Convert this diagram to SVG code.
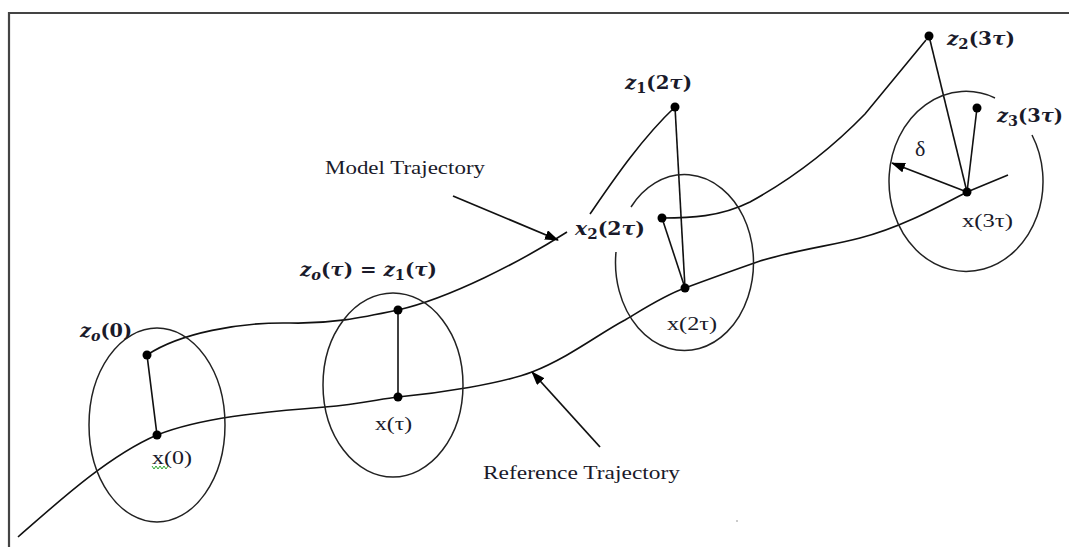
<svg xmlns="http://www.w3.org/2000/svg" width="1069" height="547" viewBox="0 0 1069 547">
<defs>
<marker id="ah" viewBox="0 0 14 10" refX="13" refY="5" markerWidth="14" markerHeight="10" markerUnits="userSpaceOnUse" orient="auto">
<path d="M0,0 L14,5 L0,10 z" fill="#000"/>
</marker>
<style>
.ln{fill:none;stroke:#111;stroke-width:1.6}
.ell{fill:none;stroke:#222;stroke-width:1.5}
.dot{fill:#000}
.m{font-family:"DejaVu Serif","Liberation Serif",serif;font-weight:bold;font-style:italic;font-size:19px;fill:#1a1a2a}
.u{font-style:normal}
.t{font-family:"Liberation Serif","Times New Roman",serif;font-size:19px;fill:#1a1a2a}
.big{font-size:22px}
.sub{font-size:14px}
.arr{fill:none;stroke:#111;stroke-width:1.8;marker-end:url(#ah)}
</style>
</defs>
<rect x="0" y="0" width="1069" height="547" fill="#fff"/>
<g id="frame">
<path d="M9,547 L9,13 L1069,13" fill="none" stroke="#444" stroke-width="2.2"/>
</g>
<g id="connectors">
<path id="reference-trajectory" class="ln" d="M18,537 C60,500 110,455 157,435 C200,418 260,412 325,407 C360,404 380,399 398,397 C440,393 500,384 532,372 C570,357 600,333 625,320 C645,308 665,295 685,288 C720,275 740,268 760,261 C800,249 830,246 860,238 C900,228 940,206 967,192 L1008,175"/>
<path id="model-a" class="ln" d="M147,355 C180,333 240,322 290,323 C330,324 360,318 398,310 C450,298 520,262 567,232"/>
<path id="model-b" class="ln" d="M590,214 C610,185 640,140 675,107"/>
<path id="model-c" class="ln" d="M662,218 C690,218 720,217 750,202 C790,180 830,150 865,114 L926,40"/>
<line class="ln" x1="147" y1="355" x2="157" y2="435"/>
<line class="ln" x1="398" y1="310" x2="398" y2="397"/>
<line class="ln" x1="675" y1="107" x2="685" y2="288"/>
<line class="ln" x1="662" y1="218" x2="685" y2="288"/>
<line class="ln" x1="929" y1="36" x2="967" y2="192"/>
<line class="ln" x1="977" y1="108" x2="967" y2="192"/>
<line class="arr" x1="967" y1="192" x2="892" y2="163"/>
<line class="arr" x1="453" y1="196" x2="558" y2="240"/>
<line class="arr" x1="600" y1="447" x2="532" y2="372"/>
</g>
<g id="node-t0">
<ellipse class="ell" cx="157" cy="425" rx="68" ry="97"/>
<circle class="dot" cx="147" cy="355" r="4.5"/>
<circle class="dot" cx="157" cy="435" r="4.5"/>
<text class="m" x="80" y="337" textLength="52" lengthAdjust="spacingAndGlyphs">z<tspan class="sub" dy="4">o</tspan><tspan class="u" dy="-4">(0)</tspan></text>
<text class="t" x="152" y="464" textLength="40" lengthAdjust="spacingAndGlyphs">x(0)</text>
<polyline points="152,466 154,469 156,466 158,469 160,466 162,469 164,466 166,469 168,466" fill="none" stroke="#3a3" stroke-width="1"/>
</g>
<g id="node-t1">
<ellipse class="ell" cx="393" cy="385" rx="70" ry="92"/>
<circle class="dot" cx="398" cy="310" r="4.5"/>
<circle class="dot" cx="398" cy="397" r="4.5"/>
<text class="m" x="300" y="276" textLength="137" lengthAdjust="spacingAndGlyphs">z<tspan class="sub" dy="4">o</tspan><tspan class="u" dy="-4">(</tspan>τ<tspan class="u">) = </tspan>z<tspan class="sub u" dy="4">1</tspan><tspan class="u" dy="-4">(</tspan>τ<tspan class="u">)</tspan></text>
<text class="t" x="375" y="430" textLength="37" lengthAdjust="spacingAndGlyphs">x(τ)</text>
</g>
<g id="node-t2">
<path class="ell" d="M631,207 A69,88 0 1 1 616,252"/>
<circle class="dot" cx="675" cy="107" r="4.5"/>
<circle class="dot" cx="662" cy="218" r="4.5"/>
<circle class="dot" cx="685" cy="288" r="4.5"/>
<text class="m" x="625" y="89" textLength="67" lengthAdjust="spacingAndGlyphs">z<tspan class="sub u" dy="4">1</tspan><tspan class="u" dy="-4">(2</tspan>τ<tspan class="u">)</tspan></text>
<text class="m" x="575" y="235" textLength="70" lengthAdjust="spacingAndGlyphs">x<tspan class="sub u" dy="4">2</tspan><tspan class="u" dy="-4">(2</tspan>τ<tspan class="u">)</tspan></text>
<text class="t" x="667" y="330" textLength="50" lengthAdjust="spacingAndGlyphs">x(2τ)</text>
</g>
<g id="node-t3">
<path class="ell" d="M1032,135 A77,90 0 1 1 995,98"/>
<circle class="dot" cx="929" cy="36" r="4.5"/>
<circle class="dot" cx="977" cy="108" r="4.5"/>
<circle class="dot" cx="967" cy="192" r="4.5"/>
<text class="m" x="947" y="45" textLength="68" lengthAdjust="spacingAndGlyphs">z<tspan class="sub u" dy="4">2</tspan><tspan class="u" dy="-4">(3</tspan>τ<tspan class="u">)</tspan></text>
<text class="m" x="997" y="122" textLength="66" lengthAdjust="spacingAndGlyphs">z<tspan class="sub u" dy="4">3</tspan><tspan class="u" dy="-4">(3</tspan>τ<tspan class="u">)</tspan></text>
<text class="t" x="962" y="227" textLength="51" lengthAdjust="spacingAndGlyphs">x(3τ)</text>
<text class="t big" x="915" y="156">δ</text>
</g>
<g id="labels">
<text class="t" x="325" y="174" textLength="160" lengthAdjust="spacingAndGlyphs">Model Trajectory</text>
<text class="t" x="483" y="479" textLength="197" lengthAdjust="spacingAndGlyphs">Reference Trajectory</text>
<circle cx="737" cy="521" r="0.8" fill="#888"/>
</g>
</svg>
